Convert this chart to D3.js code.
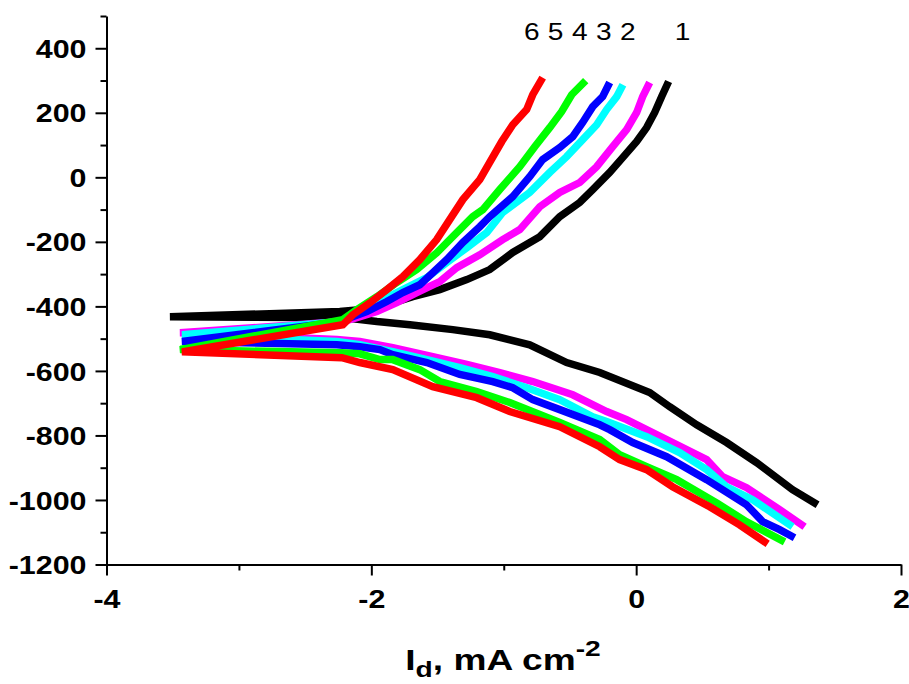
<!DOCTYPE html>
<html>
<head>
<meta charset="utf-8">
<script src="https://cdn.jsdelivr.net/npm/d3@7/dist/d3.min.js"></script>
<style>
  body { margin: 0; background: #fff; }
  svg text { font-family: "Liberation Sans", Arial, Helvetica, sans-serif; }
</style>
</head>
<body>
<svg id="chart" width="909" height="684"></svg>
<script>

// curves: anodic branch (top) -> left end -> cathodic branch (bottom)
var curve1 = [[0.245,297],[0.192,250],[0.14,201],[0.079,154],[0.004,111],[-0.102,61],[-0.2,15],[-0.328,-38],[-0.426,-78],[-0.577,-122],[-0.728,-184],[-0.932,-233],[-1.106,-286],[-1.279,-317],[-1.483,-348],[-1.687,-370],[-1.883,-395],[-2.087,-410],[-2.238,-416],[-3.521,-432],[-2.2,-435],[-1.958,-447],[-1.709,-457],[-1.385,-472],[-1.106,-488],[-0.804,-519],[-0.525,-574],[-0.275,-605],[0.102,-667],[0.253,-711],[0.457,-767],[0.683,-822],[0.909,-884],[1.181,-968],[1.37,-1015]];

var curve2 = [[0.102,294],[0.049,250],[0.004,201],[-0.072,148],[-0.177,95],[-0.298,33],[-0.426,-16],[-0.577,-47],[-0.728,-91],[-0.879,-162],[-1.008,-193],[-1.181,-240],[-1.355,-280],[-1.483,-323],[-1.657,-357],[-1.808,-388],[-1.958,-416],[-2.109,-435],[-2.215,-447],[-3.445,-482],[-2.26,-503],[-2.087,-509],[-1.838,-528],[-1.536,-556],[-1.279,-580],[-1.03,-605],[-0.781,-633],[-0.479,-674],[-0.223,-726],[-0.072,-751],[0.23,-813],[0.532,-875],[0.653,-928],[0.834,-962],[1.083,-1030],[1.272,-1083]];

var curve3 = [[-0.1,287],[-0.147,250],[-0.223,210],[-0.298,163],[-0.404,117],[-0.525,64],[-0.653,15],[-0.804,-47],[-1.008,-109],[-1.128,-171],[-1.279,-218],[-1.43,-264],[-1.581,-311],[-1.732,-342],[-1.913,-379],[-2.087,-416],[-2.215,-447],[-3.43,-488],[-2.26,-509],[-2.087,-519],[-1.838,-540],[-1.581,-565],[-1.332,-590],[-1.083,-618],[-0.826,-652],[-0.577,-689],[-0.328,-742],[-0.223,-757],[0.079,-804],[0.328,-853],[0.532,-906],[0.683,-959],[0.879,-999],[1.181,-1083]];

var curve4 = [[-0.2,294],[-0.253,250],[-0.328,219],[-0.404,170],[-0.479,126],[-0.577,92],[-0.706,55],[-0.804,2],[-0.932,-60],[-1.106,-122],[-1.181,-153],[-1.309,-202],[-1.43,-255],[-1.536,-296],[-1.634,-333],[-1.762,-357],[-1.883,-385],[-2.034,-416],[-2.162,-435],[-2.215,-447],[-3.43,-509],[-2.26,-519],[-2.087,-525],[-1.936,-534],[-1.838,-550],[-1.581,-574],[-1.332,-611],[-1.083,-633],[-0.932,-652],[-0.781,-689],[-0.577,-720],[-0.275,-767],[-0.2,-782],[-0.026,-822],[0.23,-866],[0.532,-937],[0.834,-1015],[0.955,-1067],[1.083,-1092],[1.196,-1117]];

var curve5 = [[-0.381,300],[-0.487,256],[-0.562,204],[-0.653,154],[-0.766,95],[-0.879,33],[-1.03,-38],[-1.158,-100],[-1.234,-122],[-1.385,-184],[-1.506,-234],[-1.657,-286],[-1.808,-326],[-1.958,-370],[-2.109,-410],[-2.215,-441],[-3.445,-534],[-2.223,-544],[-2.087,-547],[-1.936,-565],[-1.838,-565],[-1.634,-596],[-1.483,-633],[-1.204,-664],[-0.955,-698],[-0.577,-760],[-0.275,-813],[-0.125,-860],[0.079,-897],[0.306,-937],[0.608,-1009],[0.834,-1068],[1.121,-1130]];

var curve6 = [[-0.706,309],[-0.781,256],[-0.827,210],[-0.932,163],[-1.015,111],[-1.106,46],[-1.181,-7],[-1.309,-69],[-1.408,-131],[-1.506,-193],[-1.634,-255],[-1.762,-308],[-1.883,-348],[-2.011,-389],[-2.14,-426],[-2.215,-457],[-3.43,-541],[-2.223,-559],[-2.087,-574],[-1.838,-596],[-1.536,-649],[-1.204,-683],[-0.955,-726],[-0.577,-773],[-0.275,-835],[-0.125,-875],[0.079,-906],[0.275,-959],[0.555,-1021],[0.781,-1077],[0.993,-1136]];

var curves = [curve1, curve2, curve3, curve4, curve5, curve6];
var colors = ["#000000", "#ff00ff", "#00ffff", "#0000ff", "#00ff00", "#ff0000"];

// curve numbers written above the anodic ends
var labelText = ["6", "5", "4", "3", "2", "1"];
var labelX = [-0.789, -0.608, -0.426, -0.245, -0.064, 0.351];
var labelY = 427;

var xTicks = [-4, -2, 0, 2];
var xMinor = [-3, -1, 1];
var yTicks = [-1200, -1000, -800, -600, -400, -200, 0, 200, 400];
var yMinor = [-1100, -900, -700, -500, -300, -100, 100, 300, 500];

var svg = d3.select("#chart");

var x = d3.scaleLinear().domain([-4, 2]).range([106.5, 901]);
var y = d3.scaleLinear().domain([-1200, 500]).range([564.5, 16]);

var stretch = 1.17;

// curves
var line = d3.line().x(d => x(d[0])).y(d => y(d[1]));

svg.append("g").selectAll("path")
    .data(curves)
  .enter().append("path")
    .attr("d", line)
    .attr("fill", "none")
    .attr("stroke", (d, i) => colors[i])
    .attr("stroke-width", 7.5);

// y axis
var yAxis = svg.append("g")
    .attr("transform", "translate(106.5,0)")
    .call(d3.axisLeft(y).tickValues(yTicks).tickSize(11).tickSizeOuter(0).tickFormat(d => String(d)));

svg.append("g")
    .attr("transform", "translate(106.5,0)")
    .call(d3.axisLeft(y).tickValues(yMinor).tickSize(6).tickFormat(""))
    .call(g => g.select(".domain").remove());

yAxis.selectAll(".tick text")
    .attr("x", 0)
    .attr("dy", "0.35em")
    .attr("transform", "translate(-20,0) scale(" + stretch + ",1)");

// x axis
var xAxis = svg.append("g")
    .attr("transform", "translate(0,564.5)")
    .call(d3.axisBottom(x).tickValues(xTicks).tickSize(11).tickPadding(14).tickSizeOuter(0).tickFormat(d => String(d)));

svg.append("g")
    .attr("transform", "translate(0,564.5)")
    .call(d3.axisBottom(x).tickValues(xMinor).tickSize(6).tickFormat(""))
    .call(g => g.select(".domain").remove());

xAxis.selectAll(".tick text")
    .attr("transform", "scale(" + stretch + ",1)")
    .attr("x", 0);

svg.selectAll(".domain, .tick line")
    .attr("stroke", "#000")
    .attr("stroke-width", 2);

svg.selectAll(".tick text")
    .attr("fill", "#000")
    .style("font-size", "26px")
    .style("font-weight", "bold");

// curve numbers
svg.append("g").selectAll("text")
    .data(labelText)
  .enter().append("text")
    .attr("transform", (d, i) => "translate(" + x(labelX[i]) + "," + y(labelY) + ") scale(" + stretch + ",1)")
    .attr("text-anchor", "middle")
    .style("font-size", "24px")
    .text(d => d);

// axis title
var title = svg.append("text")
    .attr("transform", "translate(503,670) scale(1.28,1)")
    .attr("text-anchor", "middle")
    .style("font-size", "29px")
    .style("font-weight", "bold");

title.append("tspan").text("I");
title.append("tspan").attr("dy", 7).style("font-size", "22px").text("d");
title.append("tspan").attr("dy", -7).text(", mA cm");
title.append("tspan").attr("dy", -14).style("font-size", "22px").text("-2");

</script>
</body>
</html>
